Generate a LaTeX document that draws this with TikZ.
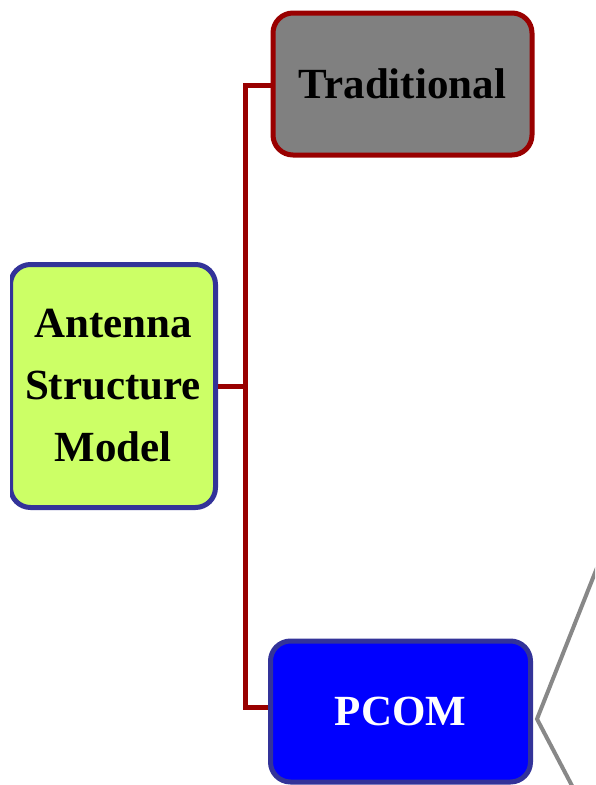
\documentclass[tikz,border=0pt]{standalone}
\usepackage{fontspec}
\setmainfont{Liberation Serif}
\begin{document}
\begin{tikzpicture}[x=1pt,y=-1pt,
  box/.style={rounded corners=20pt, line width=5pt, inner sep=0pt,
    font=\bfseries\fontsize{43}{62}\selectfont, align=center},
  rootbox/.style={box, draw=rootline, fill=rootfill,
    minimum width=205pt, minimum height=243pt},
  tradbox/.style={box, draw=tradline, fill=tradfill,
    minimum width=259pt, minimum height=142pt},
  pcombox/.style={box, draw=pcomline, fill=pcomfill, text=white,
    minimum width=260pt, minimum height=141pt},
  branch/.style={draw=tradline, line width=5pt},
  spoke/.style={draw=spokegray, line width=4pt}]
  \definecolor{rootfill}{HTML}{CCFF66}
  \definecolor{rootline}{HTML}{333399}
  \definecolor{tradfill}{HTML}{808080}
  \definecolor{tradline}{HTML}{990000}
  \definecolor{pcomfill}{HTML}{0000FF}
  \definecolor{pcomline}{HTML}{333399}
  \definecolor{spokegray}{HTML}{888888}
  \useasboundingbox (0,0) rectangle (595,785);
  \begin{scope}
    \clip (10,0) rectangle (595,785);
    % tree nodes
    \node[rootbox] (root) at (113,386) {Antenna\\Structure\\Model};
    \node[tradbox] (trad) at (402.5,84) {Traditional};
    \node[pcombox] (pcom) at (400.5,711.5) {PCOM};
    % bracket joining the root to its two children
    \coordinate (trunk) at (245,386);
    \path[branch] (trad.west |- 0,85) -| (trunk) |- (pcom.west |- 0,707);
    \path[branch] (root.east) -- (trunk);
    % spokes leaving PCOM towards the right
    \coordinate (hub) at (537,719);
    \coordinate (up) at (610,535);
    \coordinate (down) at (590,820);
    \path[spoke, line join=miter] (up) -- (hub) -- (down);
  \end{scope}
\end{tikzpicture}
\end{document}
